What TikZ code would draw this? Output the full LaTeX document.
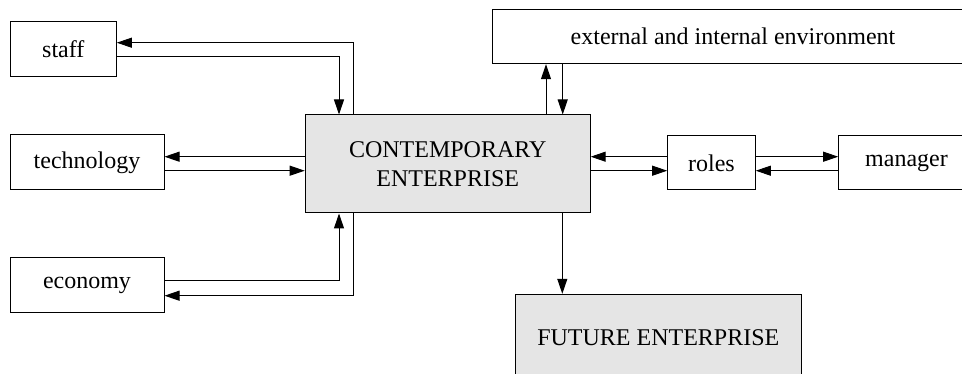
\documentclass[tikz,border=0pt]{standalone}
\usepackage{fontspec}
\setmainfont{Liberation Serif}
\usetikzlibrary{arrows.meta}
\definecolor{boxgray}{RGB}{229,229,229}
\tikzset{
  box/.style={draw, line width=1pt, inner sep=0pt, align=center,
    font=\fontsize{24}{28.4}\selectfont},
  graybox/.style={box, fill=boxgray},
  arr/.style={line width=1pt, -{Triangle[length=15pt,width=10pt]}},
}
\begin{document}
\begin{tikzpicture}[x=1pt, y=-1pt]
\useasboundingbox (0,0) rectangle (962,374);
\clip (0,0) rectangle (962,374);

% boxes
\node[box, minimum width=106pt, minimum height=55pt] (staff) at (63.3,49.5) {staff};
\node[box, minimum width=154pt, minimum height=55pt] (tech) at (87,162.5) {technology};
\node[box, minimum width=154pt, minimum height=55pt] (econ) at (87,285.5) {economy};
\node[graybox, minimum width=285pt, minimum height=98pt] (ce) at (447.7,164) {CONTEMPORARY\\ENTERPRISE};
\node[box, minimum width=481pt, minimum height=54.4pt] (ext) at (733,36.5) {external and internal environment};
\node[box, minimum width=87.6pt, minimum height=54.3pt] (roles) at (711.5,162.8) {roles};
\node[box, minimum width=135.6pt, minimum height=54.3pt] (manager) at (906.5,162.8) {manager};
\node[graybox, minimum width=286pt, minimum height=86.4pt] (future) at (658.3,337.5) {FUTURE ENTERPRISE};

% routing points
\coordinate (sOut) at (353.7,42.7);
\coordinate (sIn)  at (339,56.7);
\coordinate (tOut) at (0,156.7);
\coordinate (tIn)  at (0,170.7);
\coordinate (eIn)  at (339,280.3);
\coordinate (eOut) at (353.7,295.7);
\coordinate (xUp)  at (546,0);
\coordinate (xDn)  at (562.7,0);
\coordinate (fDn)  at (562.3,0);

% staff
\draw[arr] (ce.north -| sOut) -- (sOut) -- (staff.east |- sOut);
\draw[arr] (staff.east |- sIn) -- (sIn) -- (ce.north -| sIn);
% technology
\draw[arr] (ce.west |- tOut) -- (tech.east |- tOut);
\draw[arr] (tech.east |- tIn) -- (ce.west |- tIn);
% economy
\draw[arr] (econ.east |- eIn) -- (eIn) -- (ce.south -| eIn);
\draw[arr] (ce.south -| eOut) -- (eOut) -- (econ.east |- eOut);
% environment
\draw[arr] (ce.north -| xUp) -- (ext.south -| xUp);
\draw[arr] (ext.south -| xDn) -- (ce.north -| xDn);
% roles
\draw[arr] (roles.west |- tOut) -- (ce.east |- tOut);
\draw[arr] (ce.east |- tIn) -- (roles.west |- tIn);
% manager
\draw[arr] (roles.east |- tOut) -- (manager.west |- tOut);
\draw[arr] (manager.west |- tIn) -- (roles.east |- tIn);
% future
\draw[arr] (ce.south -| fDn) -- (future.north -| fDn);
\end{tikzpicture}
\end{document}
